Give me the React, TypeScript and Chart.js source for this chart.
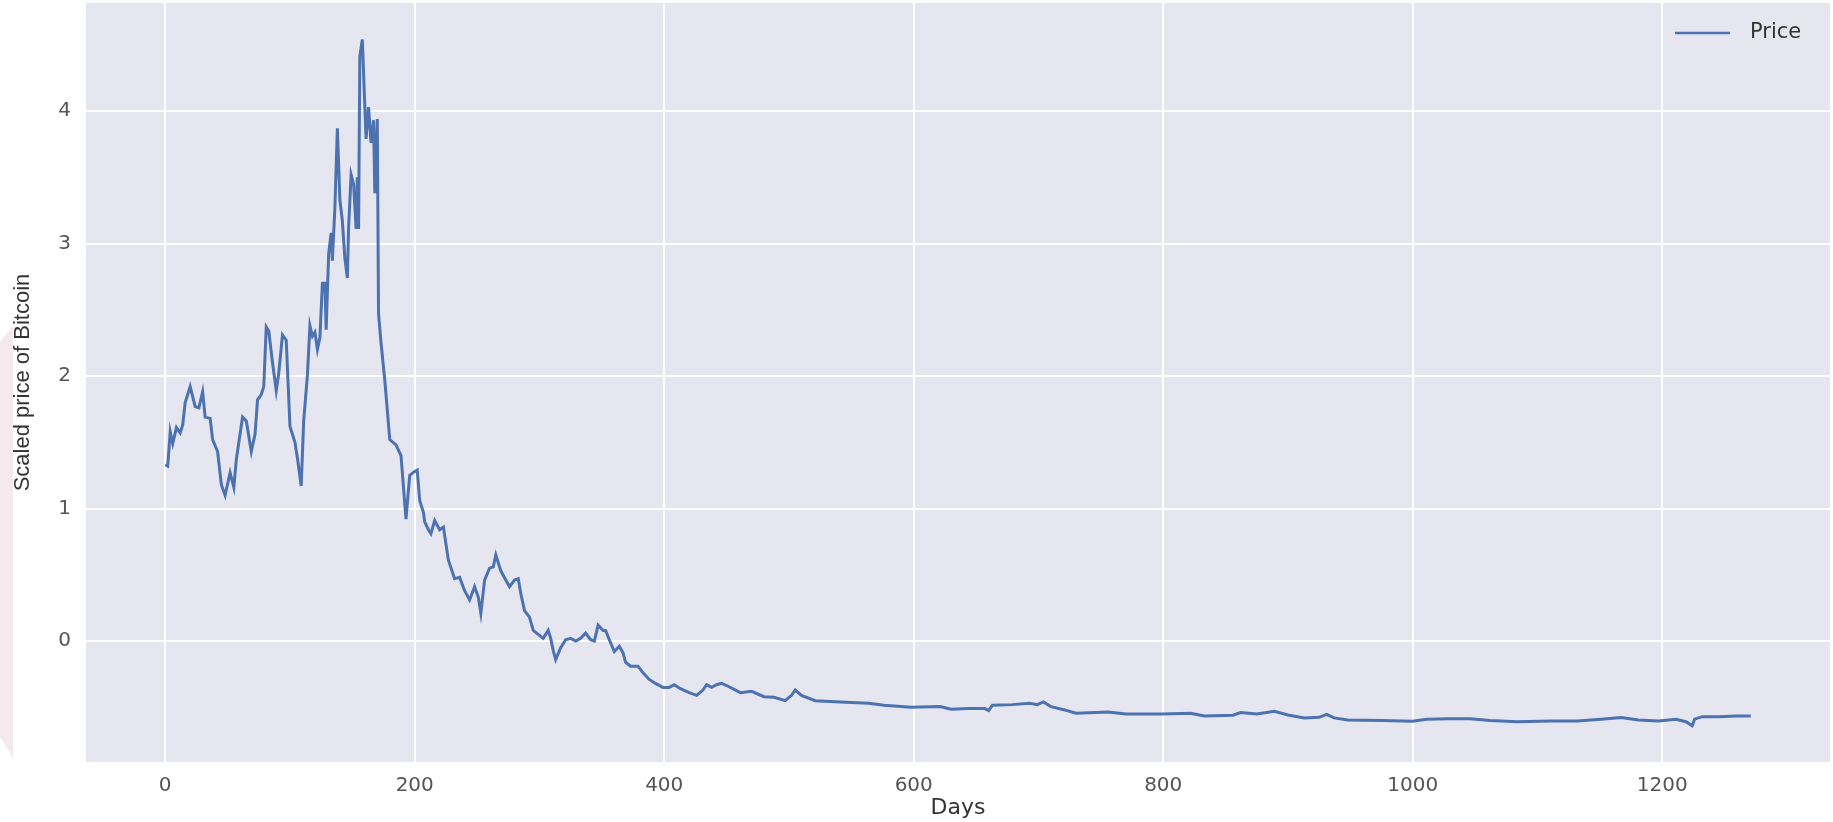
import React, { useEffect, useRef } from "react";
import { Chart, registerables } from "chart.js";

Chart.register(...registerables);

const seriesLabel = "Price";
const xTitle = "Days";
const yTitle = "Scaled price of Bitcoin";
const xTicks = [0, 200, 400, 600, 800, 1000, 1200];
const yTicks = [0, 1, 2, 3, 4];

const days = [
  0, 2, 4, 6, 9, 12, 14, 16, 20, 24, 27, 30, 32, 36, 38, 42, 45, 48, 52, 55, 57, 62, 65, 69, 72, 74, 77, 79,
  81, 83, 86, 89, 91, 94, 97, 100, 102, 104, 106, 109, 111, 114, 116, 118, 120, 122, 124, 126, 128, 129,
  131, 133, 134, 136, 138, 140, 142, 144, 146, 147, 149, 151, 153, 154, 155, 156, 158, 161, 163, 165, 167,
  168, 170, 171, 173, 176, 180, 185, 189, 193, 196, 200, 202, 204, 207, 208, 211, 213, 216, 220, 223, 227,
  232, 236, 240, 244, 248, 251, 253, 256, 260, 263, 265, 269, 273, 276, 280, 283, 285, 288, 292, 295, 299,
  303, 307, 309, 311, 313, 317, 321, 325, 329, 333, 337, 341, 344, 347, 351, 353, 356, 360, 364, 367, 369,
  373, 379, 383, 388, 393, 399, 404, 408, 413, 420, 426, 431, 434, 438, 442, 446, 452, 461, 470, 480, 488,
  497, 502, 505, 510, 521, 541, 564, 576, 598, 621, 630, 644, 657, 660, 663, 679, 693, 699, 704, 710, 721,
  730, 756, 770, 799, 822, 833, 856, 862, 875, 889, 900, 913, 925, 931, 937, 948, 975, 1000, 1011, 1029,
  1046, 1062, 1084, 1111, 1132, 1151, 1167, 1181, 1197, 1211, 1219, 1224, 1226, 1232, 1246, 1259, 1271,
];

const prices = [
  1.33, 1.32, 1.58, 1.49, 1.61, 1.57, 1.63, 1.8, 1.92, 1.77, 1.76, 1.88, 1.69, 1.68, 1.52, 1.43, 1.18, 1.1,
  1.27, 1.16, 1.37, 1.69, 1.66, 1.43, 1.56, 1.82, 1.86, 1.92, 2.37, 2.34, 2.1, 1.89, 2.02, 2.31, 2.27, 1.62,
  1.56, 1.5, 1.38, 1.17, 1.66, 2.01, 2.38, 2.3, 2.33, 2.2, 2.29, 2.7, 2.7, 2.35, 2.92, 3.08, 2.87, 3.27, 3.87,
  3.33, 3.17, 2.89, 2.74, 3.12, 3.52, 3.45, 3.11, 3.5, 3.11, 4.41, 4.54, 3.79, 4.03, 3.76, 3.93, 3.38, 3.94,
  2.47, 2.25, 1.97, 1.52, 1.48, 1.4, 0.92, 1.25, 1.28, 1.29, 1.06, 0.97, 0.9, 0.84, 0.81, 0.91, 0.84, 0.86,
  0.61, 0.47, 0.48, 0.38, 0.31, 0.41, 0.33, 0.21, 0.46, 0.55, 0.56, 0.65, 0.53, 0.46, 0.41, 0.46, 0.47, 0.36,
  0.23, 0.18, 0.08, 0.05, 0.02, 0.08, 0.02, -0.07, -0.14, -0.05, 0.01, 0.02, 0.0, 0.02, 0.06, 0.01, 0.0,
  0.12, 0.08, 0.08, 0.01, -0.08, -0.04, -0.09, -0.16, -0.19, -0.19, -0.24, -0.29, -0.32, -0.35, -0.35,
  -0.33, -0.36, -0.39, -0.41, -0.37, -0.33, -0.35, -0.33, -0.32, -0.345, -0.39, -0.38, -0.42, -0.425,
  -0.45, -0.41, -0.37, -0.41, -0.45, -0.46, -0.47, -0.485, -0.5, -0.495, -0.515, -0.51, -0.51, -0.525,
  -0.485, -0.48, -0.47, -0.48, -0.46, -0.495, -0.52, -0.545, -0.535, -0.55, -0.55, -0.545, -0.566, -0.56,
  -0.54, -0.55, -0.53, -0.558, -0.58, -0.576, -0.553, -0.58, -0.596, -0.6, -0.606, -0.59, -0.586, -0.586,
  -0.6, -0.609, -0.604, -0.604, -0.59, -0.578, -0.596, -0.604, -0.59, -0.609, -0.64, -0.59, -0.571, -0.571,
  -0.566, -0.566,
];

const LINE_COLOR = "#4C72B0";
const FACE_COLOR = "#E6E6F0";

const facePlugin = {
  id: "face",
  beforeDraw(chart: any) {
    const { ctx, chartArea } = chart;
    ctx.save();
    ctx.fillStyle = FACE_COLOR;
    ctx.fillRect(chartArea.left, chartArea.top, chartArea.right - chartArea.left, chartArea.bottom - chartArea.top);
    ctx.restore();
  },
};

const innerLegendPlugin = {
  id: "innerLegend",
  afterDatasetsDraw(chart: any) {
    const { ctx, chartArea } = chart;
    const ds = chart.data.datasets[0];
    const y = chartArea.top + 30;
    const x0 = chartArea.right - 155;
    ctx.save();
    ctx.strokeStyle = ds.borderColor;
    ctx.lineWidth = 2.5;
    ctx.beginPath();
    ctx.moveTo(x0, y);
    ctx.lineTo(x0 + 55, y);
    ctx.stroke();
    ctx.fillStyle = "#333";
    ctx.font = "21px 'DejaVu Sans', sans-serif";
    ctx.textBaseline = "middle";
    ctx.textAlign = "left";
    ctx.fillText(ds.label, x0 + 75, y);
    ctx.restore();
  },
};

export default function App() {
  const ref = useRef<HTMLCanvasElement | null>(null);

  useEffect(() => {
    if (!ref.current) return;
    const chart = new Chart(ref.current, {
      type: "line",
      data: {
        datasets: [
          {
            label: seriesLabel,
            data: days.map((d, i) => ({ x: d, y: prices[i] })),
            borderColor: LINE_COLOR,
            backgroundColor: LINE_COLOR,
            borderWidth: 3,
            pointRadius: 0,
            tension: 0,
            fill: false,
          },
        ],
      },
      options: {
        animation: false,
        responsive: false,
        events: [],
        layout: { padding: { top: 3, right: 3, left: 0, bottom: 0 } },
        plugins: {
          legend: { display: false },
          tooltip: { enabled: false },
          title: { display: false },
        },
        scales: {
          x: {
            type: "linear",
            min: -63.5,
            max: 1334.5,
            afterBuildTicks: (s: any) => {
              s.ticks = xTicks.map((v) => ({ value: v }));
            },
            afterFit: (s: any) => {
              s.height = 60;
              s.paddingLeft = 0;
              s.paddingRight = 0;
            },
            grid: { color: "#ffffff", lineWidth: 2, drawTicks: false },
            border: { display: false },
            ticks: {
              padding: 12,
              color: "#555555",
              font: { family: "'DejaVu Sans', sans-serif", size: 20 },
              maxRotation: 0,
              callback: (v: any) => String(v),
            },
            title: {
              display: true,
              text: xTitle,
              color: "#333333",
              font: { family: "'DejaVu Sans', sans-serif", size: 22 },
              padding: { top: 0, bottom: 1 },
            },
          },
          y: {
            type: "linear",
            min: -0.913,
            max: 4.815,
            afterBuildTicks: (s: any) => {
              s.ticks = yTicks.map((v) => ({ value: v }));
            },
            afterFit: (s: any) => {
              s.width = 86;
              s.paddingTop = 0;
              s.paddingBottom = 0;
            },
            grid: { color: "#ffffff", lineWidth: 2, drawTicks: false },
            border: { display: false },
            ticks: {
              padding: 15,
              color: "#555555",
              font: { family: "'DejaVu Sans', sans-serif", size: 20 },
              callback: (v: any) => String(v),
            },
            title: {
              display: true,
              text: yTitle,
              color: "#333333",
              font: { family: "'Liberation Sans', Arial, sans-serif", size: 22 },
              padding: { top: 10, bottom: 0 },
            },
          },
        },
      },
      plugins: [facePlugin, innerLegendPlugin],
    });
    return () => chart.destroy();
  }, []);

  return (
    <div style={{ position: "absolute", left: 0, top: 0, width: 1833, height: 822, background: "#ffffff" }}>
      <div
        style={{
          position: "absolute",
          left: 0,
          top: 0,
          width: 13,
          height: 822,
          background: "#F4E9ED",
          clipPath: "polygon(0px 342px, 13px 326px, 13px 758px, 0px 737px)",
        }}
      />
      <canvas ref={ref} width={1833} height={822} style={{ position: "absolute", left: 0, top: 0 }} />
    </div>
  );
}
